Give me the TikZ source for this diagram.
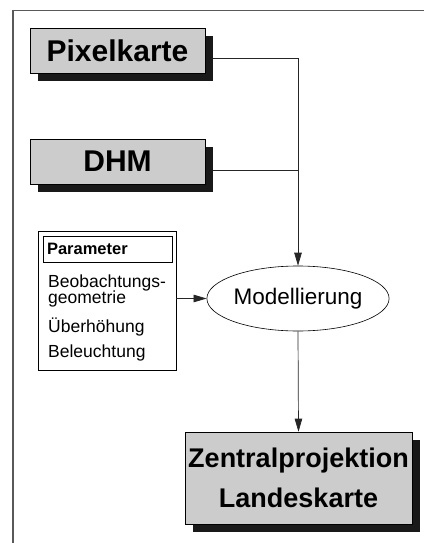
\documentclass[tikz,border=0pt]{standalone}
\usepackage{fontspec}
\setmainfont{Liberation Sans}
\usepackage{tikz}
\usetikzlibrary{shapes.geometric, arrows.meta, positioning, shadows}

\begin{document}
\begin{tikzpicture}[
	x=1pt, y=-1pt,
	% Defining node styles
	mapbox/.style={rectangle, draw=black, line width=0.6pt, fill=black!20, inner sep=0pt, text centered, font=\bfseries\fontsize{30}{36}\selectfont, drop shadow={shadow xshift=8pt, shadow yshift=-8pt, fill=black!90, opacity=1}},
	procellipse/.style={ellipse, draw=black, line width=0.6pt, minimum width=154pt, minimum height=65pt, inner sep=0pt, font=\fontsize{22.5}{27}\selectfont},
	parambox/.style={rectangle, draw=black, line width=0.6pt, inner sep=0pt, minimum width=138pt, minimum height=139pt},
	headbox/.style={rectangle, draw=black, line width=0.6pt, inner xsep=4pt, inner ysep=0pt, text width=121pt, align=left, minimum height=26pt, font=\bfseries\fontsize{16.5}{18}\selectfont},
	item/.style={anchor=base west, inner sep=0pt, font=\fontsize{17.5}{18}\selectfont},
	connector/.style={-{Triangle[length=13pt, width=7.5pt]}, line width=0.7pt, draw=black!85},
	plainline/.style={line width=0.7pt, draw=black!85},
	pageframe/.style={line width=1.2pt, draw=black!65}
]
	\useasboundingbox (0,0) rectangle (424,543);

	% Frame
	\draw[pageframe] (13,543) -- (13,10.5) -- (424,10.5);

	% Placing input nodes
	\node[mapbox, minimum width=175pt, minimum height=45pt] (pixel) at (117.5,50.5) {Pixelkarte};
	\node[mapbox, minimum width=175pt, minimum height=45pt] (dhm) at (117.5,161.5) {DHM};

	% Parameter block
	\node[parambox] (params) at (107,300.5) {};
	\node[headbox] (head) at (107.5,249) {Parameter};
	\node[item] (obs1) at (48,287) {Beobachtungs-};
	\node[item] (obs2) at (48,303) {geometrie};
	\node[item] (exag) at (48,332) {Überhöhung};
	\node[item] (light) at (48,357) {Beleuchtung};

	% Process and result
	\node[procellipse] (model) at (298,298.5) {Modellierung};
	\node[mapbox, minimum width=227pt, minimum height=92pt, align=center, font=\bfseries\fontsize{27}{40}\selectfont] (zentral) at (298.5,478) {Zentralprojektion\\Landeskarte};

	% Drawing connections
	\coordinate (pixout) at ([xshift=8pt, yshift=-7.5pt]pixel.east);
	\coordinate (dhmout) at ([xshift=8pt, yshift=-8.5pt]dhm.east);
	\draw[connector] (pixout) -| (model.north);
	\draw[plainline] (dhmout) -- (dhmout -| model.north);
	\draw[connector] (params.east |- model.west) -- (model.west);
	\draw[connector] (model.south) -- (zentral.north);

\end{tikzpicture}
\end{document}
